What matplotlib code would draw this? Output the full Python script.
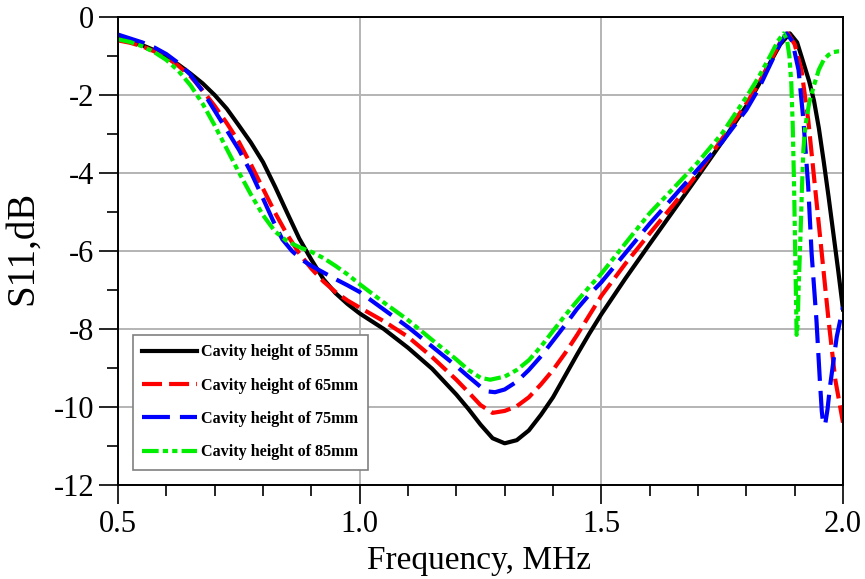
import numpy as np
import matplotlib
matplotlib.use("Agg")
import matplotlib.pyplot as plt
from matplotlib.ticker import MultipleLocator

# === DATA ===
f_55 = [0.50, 0.525, 0.55, 0.575, 0.60, 0.625, 0.65, 0.675, 0.70, 0.725, 0.75, 0.775,
        0.80, 0.825, 0.85, 0.875, 0.90, 0.925, 0.95, 0.975, 1.00, 1.05, 1.10, 1.15,
        1.20, 1.225, 1.25, 1.275, 1.30, 1.325, 1.35, 1.375, 1.40, 1.425, 1.45, 1.475,
        1.50, 1.55, 1.60, 1.65, 1.70, 1.75, 1.80, 1.825, 1.85, 1.87, 1.89, 1.905,
        1.92, 1.93, 1.94, 1.95, 1.96, 1.97, 1.98, 1.99, 2.00]
s_55 = [-0.55, -0.62, -0.72, -0.85, -1.02, -1.22, -1.45, -1.70, -2.00, -2.35, -2.78, -3.22,
        -3.72, -4.35, -5.02, -5.68, -6.22, -6.72, -7.08, -7.36, -7.60, -8.00, -8.48, -9.02,
        -9.68, -10.05, -10.45, -10.80, -10.93, -10.85, -10.60, -10.20, -9.75, -9.20, -8.65, -8.12,
        -7.62, -6.70, -5.82, -4.95, -4.08, -3.20, -2.28, -1.75, -1.15, -0.70, -0.42, -0.65,
        -1.25, -1.65, -2.15, -2.85, -3.70, -4.60, -5.55, -6.50, -7.50]

f_65 = [0.50, 0.525, 0.55, 0.575, 0.60, 0.625, 0.65, 0.675, 0.70, 0.725, 0.75, 0.775,
        0.80, 0.825, 0.85, 0.875, 0.90, 0.925, 0.95, 0.975, 1.00, 1.05, 1.10, 1.15,
        1.20, 1.225, 1.25, 1.275, 1.30, 1.325, 1.35, 1.375, 1.40, 1.425, 1.45, 1.475,
        1.50, 1.55, 1.60, 1.65, 1.70, 1.75, 1.80, 1.825, 1.85, 1.87, 1.886, 1.90,
        1.914, 1.928, 1.942, 1.956, 1.970, 1.984, 2.00]
s_65 = [-0.60, -0.66, -0.75, -0.88, -1.03, -1.25, -1.52, -1.88, -2.28, -2.72, -3.20, -3.78,
        -4.40, -5.02, -5.58, -6.06, -6.45, -6.78, -7.05, -7.27, -7.45, -7.80, -8.20, -8.72,
        -9.30, -9.62, -9.95, -10.15, -10.10, -9.98, -9.75, -9.42, -9.05, -8.62, -8.15, -7.65,
        -7.15, -6.32, -5.55, -4.80, -4.00, -3.12, -2.22, -1.72, -1.12, -0.65, -0.42, -0.70,
        -1.36, -2.64, -4.35, -6.06, -7.77, -9.30, -10.40]

f_75 = [0.50, 0.525, 0.55, 0.575, 0.60, 0.625, 0.65, 0.675, 0.70, 0.725, 0.75, 0.775,
        0.80, 0.82, 0.84, 0.86, 0.88, 0.90, 0.925, 0.95, 0.975, 1.00, 1.05, 1.10,
        1.15, 1.20, 1.225, 1.25, 1.265, 1.28, 1.30, 1.325, 1.35, 1.375, 1.40, 1.425,
        1.45, 1.475, 1.50, 1.55, 1.60, 1.65, 1.70, 1.75, 1.80, 1.825, 1.85, 1.87,
        1.883, 1.895, 1.908, 1.918, 1.928, 1.935, 1.945, 1.952, 1.956, 1.959, 1.963,
        1.968, 1.973, 1.987, 2.00]
s_75 = [-0.45, -0.55, -0.65, -0.78, -0.95, -1.18, -1.48, -1.90, -2.40, -2.90, -3.40, -3.98,
        -4.65, -5.20, -5.70, -6.00, -6.22, -6.38, -6.55, -6.72, -6.88, -7.05, -7.50, -7.95,
        -8.45, -8.95, -9.22, -9.48, -9.60, -9.62, -9.55, -9.35, -9.05, -8.70, -8.30, -7.90,
        -7.48, -7.12, -6.80, -6.05, -5.30, -4.60, -3.90, -3.20, -2.38, -1.85, -1.20, -0.68,
        -0.42, -0.62, -1.36, -2.64, -4.35, -6.06, -7.77, -9.30, -10.10, -10.45, -10.45,
        -10.05, -9.48, -8.20, -7.43]

f_85 = [0.50, 0.525, 0.55, 0.575, 0.60, 0.625, 0.65, 0.675, 0.70, 0.725, 0.75, 0.775,
        0.80, 0.825, 0.85, 0.875, 0.90, 0.925, 0.95, 0.975, 1.00, 1.05, 1.10, 1.15,
        1.20, 1.225, 1.25, 1.27, 1.30, 1.325, 1.35, 1.375, 1.40, 1.425, 1.45, 1.475,
        1.50, 1.55, 1.60, 1.65, 1.70, 1.75, 1.80, 1.825, 1.85, 1.865, 1.877, 1.884,
        1.889, 1.893, 1.896, 1.899, 1.901, 1.903, 1.904, 1.906, 1.908, 1.912, 1.915,
        1.918, 1.922, 1.93, 1.94, 1.95, 1.96, 1.97, 1.98, 1.99, 2.00]
s_85 = [-0.57, -0.64, -0.75, -0.90, -1.10, -1.38, -1.75, -2.22, -2.78, -3.38, -3.98, -4.55,
        -5.08, -5.50, -5.75, -5.90, -6.02, -6.18, -6.38, -6.60, -6.85, -7.32, -7.77, -8.28,
        -8.78, -9.05, -9.25, -9.30, -9.22, -9.05, -8.80, -8.45, -8.05, -7.65, -7.28, -6.92,
        -6.58, -5.80, -5.03, -4.38, -3.72, -2.98, -2.05, -1.55, -0.98, -0.62, -0.42, -0.58,
        -1.00, -1.70, -2.80, -4.50, -6.00, -7.40, -8.15, -7.90, -7.00, -5.60, -4.40,
        -3.40, -2.80, -2.20, -1.75, -1.35, -1.10, -0.97, -0.90, -0.88, -0.88]

labels = ["Cavity height of 55mm", "Cavity height of 65mm",
          "Cavity height of 75mm", "Cavity height of 85mm"]

# === PLOT ===
plt.rcParams['font.family'] = ['Liberation Serif', 'DejaVu Serif']

fig = plt.figure(figsize=(8.65, 5.79), dpi=100)
ax = fig.add_axes([0.1364, 0.1623, 0.8382, 0.8083])

lw = 3.0
ax.plot(f_55, s_55, color='black', lw=lw, linestyle='-', label=labels[0])
ax.plot(f_65, s_65, color='red', lw=lw, linestyle=(0, (4.8, 1.7)), label=labels[1])
ax.plot(f_75, s_75, color='blue', lw=lw, linestyle=(0, (6.7, 2.4)), label=labels[2])
ax.plot(f_85, s_85, color='#00ee00', lw=lw,
        linestyle=(0, (4.0, 1.0, 1.25, 1.0, 1.25, 1.0)), label=labels[3])

ax.xaxis.set_major_locator(MultipleLocator(0.5))
ax.xaxis.set_minor_locator(MultipleLocator(0.1))
ax.yaxis.set_major_locator(MultipleLocator(2))
ax.yaxis.set_minor_locator(MultipleLocator(1))
ax.set_xlim(0.5, 2.0)
ax.set_ylim(-12, 0)
ax.set_xticks(ax.get_xticks())
ax.set_xticklabels([f"{v:.1f}" for v in ax.get_xticks()])
ax.set_yticks(ax.get_yticks())
ax.set_yticklabels([f"{int(v)}" for v in ax.get_yticks()])
ax.set_xlim(0.5, 2.0)
ax.set_ylim(-12, 0)

ax.grid(True, which='major', color='#b4b4b4', lw=1.4)
ax.tick_params(which='major', direction='out', length=14, width=1.2, labelsize=22)
ax.tick_params(axis='y', which='major', pad=3)
ax.tick_params(axis='x', which='major', pad=4)
ax.tick_params(which='minor', direction='out', length=8, width=1.2)
for sp in ax.spines.values():
    sp.set_linewidth(1.4)

ax.set_xlabel("Frequency, MHz", fontsize=24)
ax.set_ylabel("S11,dB", fontsize=28)
ax.xaxis.set_label_coords(0.498, -0.13)
ax.yaxis.set_label_coords(-0.106, 0.507)

leg = ax.legend(loc='lower left', bbox_to_anchor=(0.0203, 0.032), borderaxespad=0,
                fancybox=False, edgecolor='#808080', framealpha=1, handlelength=3.4,
                handletextpad=0.25, labelspacing=1.08, borderpad=0.6,
                prop={'weight': 'bold', 'size': 11.6})
leg.get_frame().set_linewidth(1.2)

fig.savefig("out.png", dpi=100)
